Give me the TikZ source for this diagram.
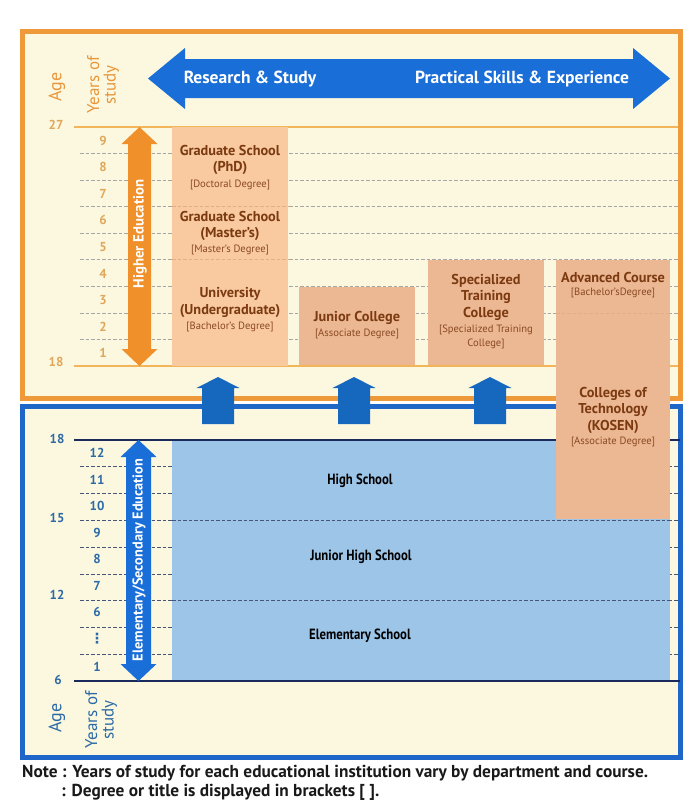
\documentclass[tikz,border=0pt]{standalone}
\usepackage{fontspec}
\setmainfont{PT Sans}
\newfontfamily\cnd[FakeStretch=0.86]{PT Sans}
\newfontfamily\dvs{DejaVu Sans}
\definecolor{obord}{HTML}{EE9A3A}
\definecolor{bbord}{HTML}{1E66C8}
\definecolor{cream}{HTML}{FBF8DF}
\definecolor{oline}{HTML}{F2B55A}
\definecolor{otext}{HTML}{E8963A}
\definecolor{onum}{HTML}{E0A65A}
\definecolor{arrblue}{HTML}{1A6ED8}
\definecolor{upblue}{HTML}{1668BE}
\definecolor{oarr}{HTML}{F0902A}
\definecolor{gradfill}{HTML}{F9C9A0}
\definecolor{peach}{HTML}{ECB894}
\definecolor{sepline}{HTML}{E2AE88}
\definecolor{ltblue}{HTML}{9CC5E8}
\definecolor{navy}{HTML}{1A2A5A}
\definecolor{btext}{HTML}{2C6AA6}
\definecolor{brown}{HTML}{7B3A10}
\definecolor{brown2}{HTML}{8A4A22}
\tikzset{
  boldlab/.style={inner sep=0pt, align=center, text=brown, font=\bfseries\fontsize{14.3}{16.5}\selectfont},
  smalllab/.style={inner sep=0pt, align=center, text=brown2, font=\fontsize{10.6}{14}\selectfont},
  blacklab/.style={inner sep=0pt, text=black, font=\cnd\bfseries\fontsize{14.8}{16}\selectfont},
  onumst/.style={inner sep=0pt, text=onum, font=\bfseries\fontsize{13}{13}\selectfont},
  bnumst/.style={inner sep=0pt, text=btext, font=\bfseries\fontsize{13}{13}\selectfont},
  odash/.style={draw=gray!70, line width=0.7pt, dash pattern=on 3.5pt off 2pt},
  bdash/.style={draw=navy!80, line width=0.8pt, dash pattern=on 3.5pt off 2pt},
  notest/.style={inner sep=0pt, anchor=west, text=black!90, font=\bfseries\fontsize{17.3}{19}\selectfont}
}
\begin{document}
\begin{tikzpicture}[x=1pt,y=-1pt]
\useasboundingbox (0,0) rectangle (700,806);
\fill[white] (0,0) rectangle (700,806);

% ---------- outer boxes ----------
\draw[line width=5pt, draw=obord, fill=cream] (22.5,31.5) rectangle (680.5,398.5);
\draw[line width=5pt, draw=bbord, fill=cream] (22.5,406.5) rectangle (680.5,757);

% ---------- top region grid ----------
\foreach \k in {1,...,8} {
  \draw[odash] (80,{366-\k*26.56}) -- (678,{366-\k*26.56});
}
\draw[oline, line width=2pt] (74,127) -- (678,127);
\draw[oline, line width=2pt] (74,366) -- (678,366);

% institution boxes (upper)
\fill[gradfill] (172,127) rectangle (288,366);
\draw[sepline, line width=0.7pt, dash pattern=on 3.5pt off 2pt] (172,206.7) -- (288,206.7);
\draw[sepline, line width=0.7pt, dash pattern=on 3.5pt off 2pt] (172,259.8) -- (288,259.8);
\fill[peach] (299,286.7) rectangle (415,365);
\fill[peach] (428,259.8) rectangle (544,365);

% ---------- bottom region grid ----------
\foreach \j in {1,...,8} {
  \draw[bdash] (80,{440+\j*26.78}) -- (678,{440+\j*26.78});
}
\fill[ltblue] (172,440) rectangle (670,681);
\draw[bdash] (172,{440+3*26.78}) -- (670,{440+3*26.78});
\draw[bdash] (172,{440+6*26.78}) -- (670,{440+6*26.78});
\draw[navy, line width=2pt] (74,440) -- (680,440);
\draw[navy, line width=2pt] (74,681) -- (680,681);

% ---------- KOSEN / Advanced course column ----------
\fill[peach] (556,259.8) rectangle (670,519);
\draw[sepline, line width=0.7pt, dash pattern=on 3.5pt off 2pt] (556,313.1) -- (670,313.1);

% ---------- up arrows ----------
\foreach \cx in {218,354,490} {
  \fill[upblue] (\cx,377) -- (\cx+21.5,388) -- (\cx+16,388) -- (\cx+16,424) -- (\cx-16,424) -- (\cx-16,388) -- (\cx-21.5,388) -- cycle;
}

% ---------- big horizontal arrow ----------
\fill[arrblue] (148,78.5) -- (185,48) -- (185,59) -- (633,59) -- (633,48) -- (670,78.5) -- (633,109) -- (633,98) -- (185,98) -- (185,109) -- cycle;
\node[inner sep=0pt, text=white, font=\bfseries\fontsize{17.5}{18}\selectfont] (rs) at (250,79) {Research \& Study};
\node[inner sep=0pt, text=white, font=\bfseries\fontsize{17.5}{18}\selectfont] (ps) at (522,79) {Practical Skills \& Experience};

% ---------- vertical arrows ----------
\fill[oarr] (139.5,127) -- (157.5,144) -- (151,144) -- (151,349) -- (157.5,349) -- (139.5,366) -- (121.5,349) -- (128,349) -- (128,144) -- (121.5,144) -- cycle;
\node[rotate=90, inner sep=0pt, text=white, font=\bfseries\fontsize{14.8}{15}\selectfont] (he) at (140,234) {Higher Education};

\fill[arrblue] (138.5,440) -- (156.5,457) -- (151,457) -- (151,664) -- (156.5,664) -- (138.5,681) -- (120.5,664) -- (126,664) -- (126,457) -- (120.5,457) -- cycle;
\node[rotate=90, inner sep=0pt, text=white, font=\bfseries\fontsize{14.3}{15}\selectfont] (ese) at (139,560) {Elementary/Secondary Education};

% ---------- axis labels (top) ----------
\node[rotate=90, inner sep=0pt, text=otext, font=\fontsize{18}{18}\selectfont] (agetop) at (57,87) {Age};
\node[rotate=90, inner sep=0pt, align=center, text=otext, font=\fontsize{17}{16.5}\selectfont] (yostop) at (103,85) {Years of\\study};
\node[onumst] (a27) at (56,125) {27};
\node[onumst] (a18t) at (56,362) {18};
\foreach \k in {1,...,9} {
  \node[onumst] (ty\k) at (103,{366-(\k-0.5)*26.56+0.5}) {\k};
}

% ---------- axis labels (bottom) ----------
\node[bnumst] (a18b) at (57,439) {18};
\node[bnumst] (a15) at (57,518) {15};
\node[bnumst] (a12) at (57,595) {12};
\node[bnumst] (a6) at (58,680) {6};
\node[bnumst] (by12) at (97,453) {12};
\node[bnumst] (by11) at (97,480) {11};
\node[bnumst] (by10) at (97,506) {10};
\node[bnumst] (by9) at (97,533) {9};
\node[bnumst] (by8) at (97,559) {8};
\node[bnumst] (by7) at (97,586) {7};
\node[bnumst] (by6) at (97,612) {6};
\node[inner sep=0pt, text=btext, font=\dvs\bfseries\fontsize{14}{14}\selectfont] (bydots) at (97,639) {⋮};
\node[bnumst] (by1) at (97,667) {1};
\node[rotate=90, inner sep=0pt, text=btext, font=\fontsize{18}{18}\selectfont] (agebot) at (57,718) {Age};
\node[rotate=90, inner sep=0pt, align=center, text=btext, font=\fontsize{17}{16.5}\selectfont] (yosbot) at (101,720) {Years of\\study};

% ---------- institution labels ----------
\node[boldlab] (phd) at (230,160) {Graduate School\\(PhD)};
\node[smalllab] (phdd) at (230,185) {[Doctoral Degree]};
\node[boldlab] (mas) at (230,226) {Graduate School\\(Master's)};
\node[smalllab] (masd) at (230,250) {[Master's Degree]};
\node[boldlab] (uni) at (230,302.5) {University\\(Undergraduate)};
\node[smalllab] (unid) at (230,327) {[Bachelor's Degree]};

\node[boldlab] (jc) at (357,318) {Junior College};
\node[smalllab] (jcd) at (357,334) {[Associate Degree]};

\node[boldlab] (stc) at (486,297) {Specialized\\Training\\College};
\node[smalllab] (stcd) at (486,337) {[Specialized Training\\College]};

\node[boldlab] (adv) at (613,277) {Advanced Course};
\node[smalllab] (advd) at (613,293) {[Bachelor’sDegree]};

\node[boldlab] (kos) at (613,410) {Colleges of\\Technology\\(KOSEN)};
\node[smalllab] (kosd) at (613,442) {[Associate Degree]};

\node[blacklab] (hs) at (360,481) {High School};
\node[blacklab] (jhs) at (361,557) {Junior High School};
\node[blacklab] (es) at (360,636) {Elementary School};

% ---------- notes ----------
\node[notest] (n1) at (22,773) {Note : Years of study for each educational institution vary by department and course.};
\node[notest] (n2) at (61,792) {: Degree or title is displayed in brackets [ ].};
\end{tikzpicture}
\end{document}
